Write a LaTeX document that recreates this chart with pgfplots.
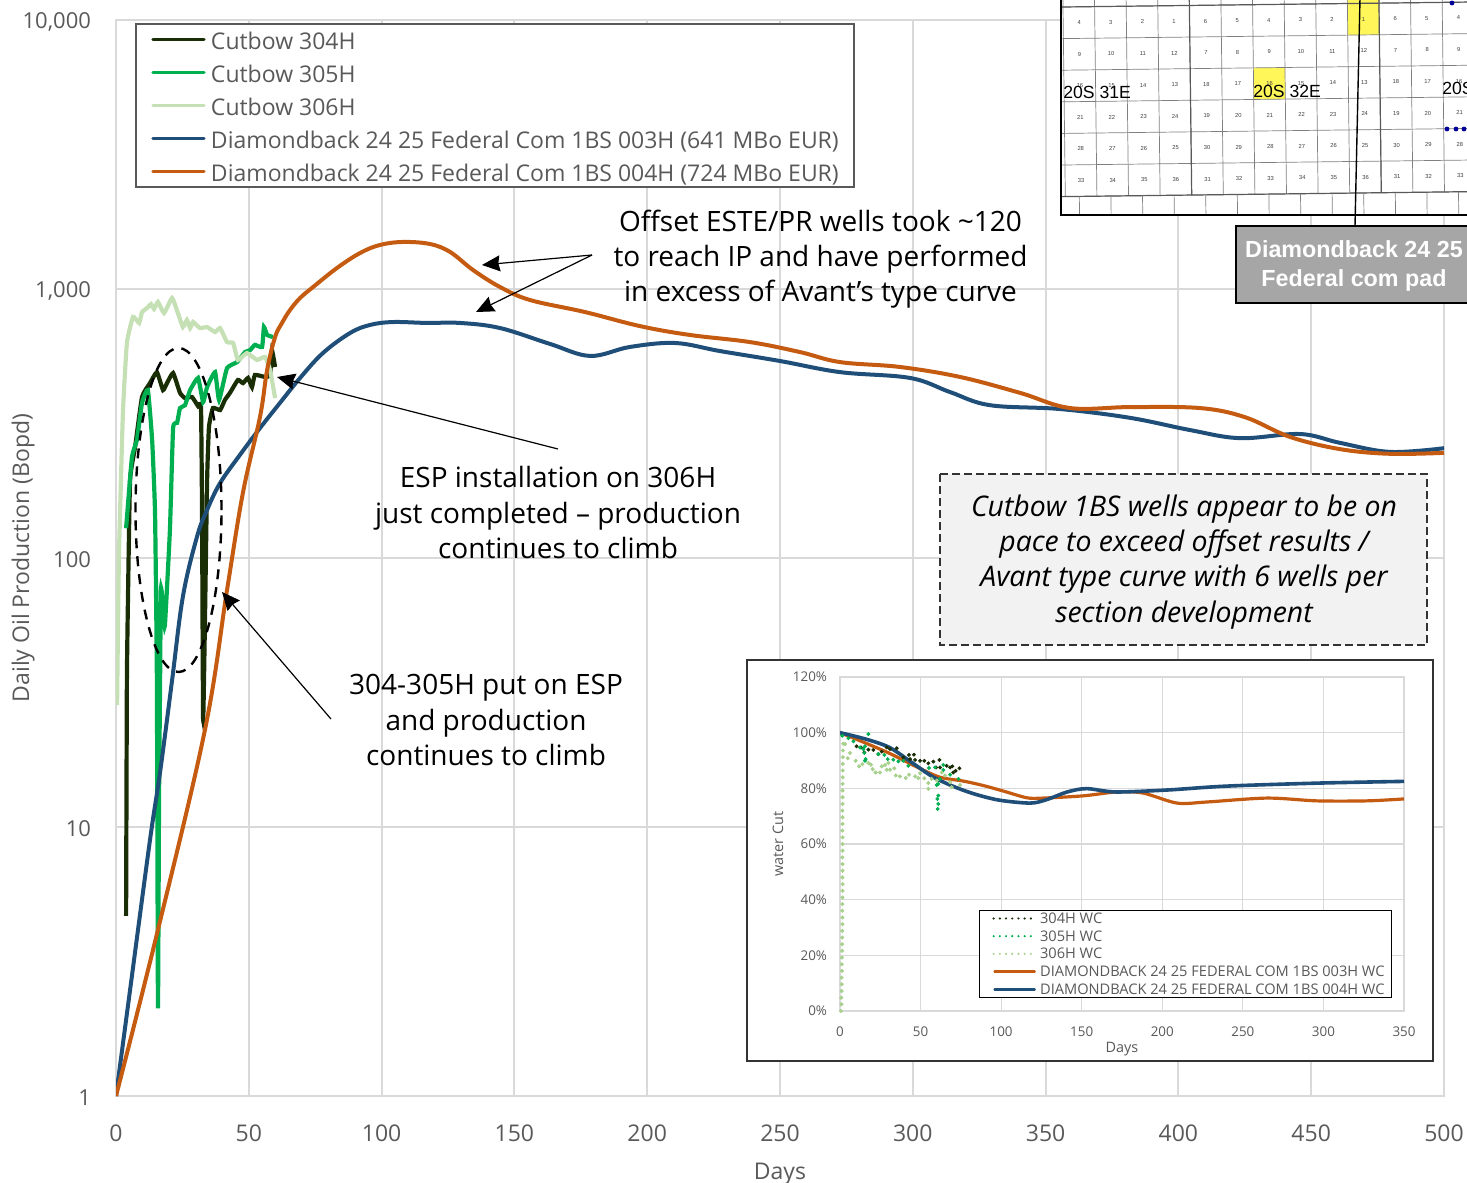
\documentclass[border=0pt]{standalone}
\usepackage{pgfplots}
\pgfplotsset{compat=1.18}
\usepackage{fontspec}
\setmainfont{Open Sans}
\newfontfamily\arialf{Liberation Sans}
\usetikzlibrary{arrows.meta}
\definecolor{cDark}{HTML}{1A2E05}
\definecolor{cGreen}{HTML}{00B050}
\definecolor{cLight}{HTML}{C5E0B4}
\definecolor{cLightDot}{HTML}{A9D18E}
\definecolor{cBlue}{HTML}{1F4E79}
\definecolor{cOrange}{HTML}{C55A11}
\definecolor{cGrid}{HTML}{D9D9D9}
\definecolor{cText}{HTML}{595959}
\newcommand\fs[2]{\fontsize{#1}{#2}\selectfont}
\tikzset{px/.style={x=0.5pt,y=-0.5pt},
  arr/.style={black,line width=0.6pt,-{Stealth[length=9pt,width=8pt,inset=0.8pt]}}}
\pgfplotsset{dotimg/.style={legend image code/.code={\path[draw=none](0pt,0pt)--(26.75pt,0pt);\draw[##1,line cap=round,line width=1.2pt,dash pattern=on 0pt off 3.1pt](3.5pt,0pt)--(24.5pt,0pt);}}}
\begin{document}
\begin{tikzpicture}
\useasboundingbox (0pt,0pt) rectangle (733.5pt,-591.5pt);
\clip (0pt,0pt) rectangle (733.5pt,-591.5pt);
\begin{axis}[
  at={(58pt,-548pt)},anchor=south west,scale only axis,width=664pt,height=538pt,
  ymode=log,xmin=0,xmax=500,ymin=1,ymax=10000,
  xtick={0,50,...,500},ytick={1,10,100,1000,10000},
  yticklabels={1,10,100,{1,000},{10,000}},
  log basis y=10,minor ytick={},
  major tick length=0pt,grid=major,
  grid style={cGrid,line width=1pt},
  axis line style={cGrid,line width=1pt},
  /pgf/number format/assume math mode=true,
  tick label style={font=\fs{11.5}{14},text=cText},
  xticklabel style={yshift=-11pt},
  yticklabel style={xshift=-9pt,yshift=-1pt,font=\fs{11}{14}},
  xlabel={Days},ylabel={Daily Oil Production (Bopd)},
  label style={font=\fs{11.5}{14},text=cText},
  xlabel style={at={(axis description cs:0.5,-0.0725)},anchor=center},
  ylabel style={at={(axis description cs:-0.07,0.5)},anchor=center},
  legend cell align=left,
  legend style={at={(rel axis cs:0.0143,0.9972)},anchor=north west,
    draw=cText,line width=1pt,fill=white,inner xsep=7.5pt,inner ysep=1pt,
    font=\fs{11.5}{14},text=cText,row sep=3pt,
    nodes={inner sep=0pt,text height=11.5pt,text depth=2pt}},
  legend image code/.code={\path[draw=none](0pt,0pt)--(30pt,0pt);\draw[#1,line cap=round,line width=1.6pt](1pt,0pt)--(26.5pt,0pt);},
]
\addplot[cDark,line width=2.1pt,smooth,tension=0.25] coordinates {(3.8,4.67)(4.1,35)(4.5,70)(5.3,195)(7.2,259)(9.8,397)(12.8,447)(15.4,491)(17.7,421)(19.2,447)(21.5,487)(24.1,411)(26,393)(28.6,397)(30.9,367)(32,364)(32.4,147)(32.8,25)(33.5,59)(34.3,195)(35,307)(36.5,361)(39.2,355)(41,387)(42.9,411)(45.9,459)(47.8,447)(49.7,467)(51.2,432)(52.3,479)(56.1,471)(58,479)(58.7,593)(59.9,513)};
\addlegendentry{Cutbow 304H}
\addplot[cGreen,line width=2.1pt,smooth,tension=0.25] coordinates {(3.8,129)(6,237)(7.9,275)(9.8,377)(12,421)(13.6,275)(14.7,147)(15.4,35)(15.8,2.12)(16.2,12.6)(16.6,35)(16.9,77)(17.7,67)(18.4,56)(20.3,127)(21.5,304)(23,318)(24.1,361)(26,370)(27.9,421)(30.9,467)(32.8,380)(34.3,432)(37.3,491)(38.8,387)(41.8,508)(45.6,535)(48.6,583)(50.5,593)(52.3,620)(55,609)(55.7,722)(56.9,675)(59.1,663)};
\addlegendentry{Cutbow 305H}
\addplot[cLight,line width=2.1pt,smooth,tension=0.25] coordinates {(0.4,28.4)(1.1,101)(2.6,346)(4.1,630)(6.4,787)(8.7,748)(9.8,821)(11.7,850)(13.2,879)(14.3,843)(15.8,895)(18.1,814)(21.1,926)(23.3,814)(25.2,722)(26.7,767)(27.9,716)(29,754)(31.6,716)(34.3,722)(37.3,692)(39.2,716)(41.8,635)(44.1,630)(45.9,545)(49.3,578)(53.1,545)(56.1,559)(58,500)(59.9,393)};
\addlegendentry{Cutbow 306H}
\addplot[cBlue,line width=2pt,smooth,tension=0.6] coordinates {(0,1)(5.3,2.48)(12.8,8.95)(16.6,16)(21.1,35)(25.2,72)(30.5,120)(34.3,151)(39.2,190)(46.7,242)(54.2,304)(61.7,377)(69.3,467)(77.9,578)(88.1,686)(95.6,735)(104.3,754)(117.1,748)(129.5,748)(144.6,716)(163.4,625)(178.5,564)(193.5,609)(210.5,630)(227.4,588)(250,540)(272.6,491)(299,467)(314,414)(329,370)(355.4,358)(381.8,332)(404.4,299)(423.2,279)(445.8,289)(460.8,268)(479.7,248)(500,256)};
\addlegendentry{Diamondback 24 25 Federal Com 1BS 003H (641 MBo EUR)}
\addplot[cOrange,line width=2pt,smooth,tension=0.6] coordinates {(0,1)(15.4,4)(33.5,23)(41.8,76)(47.8,175)(54.2,334)(56.9,500)(59.9,663)(62.5,748)(65.5,835)(69.3,926)(74.2,1017)(83.2,1197)(91.9,1361)(99.4,1458)(108.1,1496)(118.2,1470)(125.8,1373)(134.4,1177)(144.6,1017)(155.9,910)(176.6,821)(197.3,728)(216,675)(238.7,635)(257.5,583)(272.6,535)(295.2,513)(317.8,471)(340.4,411)(359.2,361)(381.8,364)(408.1,361)(425,334)(442,282)(460.8,254)(479.7,244)(500,246)};
\addlegendentry{Diamondback 24 25 Federal Com 1BS 004H (724 MBo EUR)}
\end{axis}
\begin{scope}[px]
% dashed ellipse
\draw[black,line width=1.2pt,dash pattern=on 5pt off 4pt] (178.5,510) ellipse [x radius=21.5pt,y radius=81pt];
% map
\fill[white] (1061,-5) rectangle (1480,215);
\begin{scope}
\clip (1061,-5) rectangle (1480,215);
\begin{scope}[rotate around={0.7:(1063,7)}]
\fill[yellow!65] (1347.4,-20) rectangle (1379,38.6);
\fill[yellow!65] (1252.6,70.2) rectangle (1284.2,101.8);
\foreach \i in {0,...,13}{\draw[gray,line width=0.35pt] (1063+31.6*\i,-20) -- (1063+31.6*\i,196.6);}
\foreach \j in {0,...,6}{\draw[gray,line width=0.35pt] (1040,7+31.6*\j) -- (1500,7+31.6*\j);}
\foreach \i in {4,10}{\draw[black!65,line width=0.6pt] (1063+31.6*\i,-20) -- (1063+31.6*\i,196.6);}
\draw[black!65,line width=0.6pt] (1040,7) -- (1500,7);
\draw[black!65,line width=0.6pt] (1040,196.6) -- (1500,196.6);
\foreach \i in {0,...,12}{\draw[gray,line width=0.35pt] (1077+31.6*\i,196.6) -- (1077+31.6*\i,225);}
\foreach \r/\lst in {0/{4,3,2,1,6,5,4,3,2,1,6,5,4},1/{9,10,11,12,7,8,9,10,11,12,7,8,9},2/{16,15,14,13,18,17,16,15,14,13,18,17,16},3/{21,22,23,24,19,20,21,22,23,24,19,20,21},4/{28,27,26,25,30,29,28,27,26,25,30,29,28},5/{33,34,35,36,31,32,33,34,35,36,31,32,33}}{
  \foreach \n [count=\c from 0] in \lst {
    \node[inner sep=0pt,text=black!75,font=\arialf\fs{2.9}{3}] at (1079+31.6*\c,22.8+31.6*\r) {\n};
  }
}
\end{scope}
\foreach \px in {1447,1456,1464}{\fill[blue!60!black] (\px,129) circle (1.2pt);}
\fill[blue!60!black] (1452,3) circle (1.2pt);
\end{scope}
\draw[black,line width=1pt] (1061,-5) -- (1061,215) -- (1480,215);
\node[anchor=west,inner sep=0pt,font=\arialf\fs{8.8}{12}] at (1063,92.5) {20S 31E};
\node[anchor=west,inner sep=0pt,font=\arialf\fs{8.8}{12}] at (1253,91) {20S 32E};
\node[anchor=west,inner sep=0pt,font=\arialf\fs{8.8}{12}] at (1442,88) {20S};
\draw[black,line width=0.7pt] (1360,-2) -- (1355,226);
\draw[black,line width=1pt,fill=black!35] (1236,226) rectangle (1480,303);
\node[align=center,text=white,inner sep=0pt,font=\arialf\bfseries\fs{11.65}{14.5}] at (1354,266) {Diamondback 24 25\\Federal com pad};
% annotations
\node[align=center,inner sep=0pt,text=black,font=\fs{14}{17.6}] at (820.5,259) {Offset ESTE/PR wells took \textasciitilde120\\to reach IP and have performed\\in excess of Avant’s type curve};
\node[align=center,inner sep=0pt,text=black,font=\fs{14}{17.6}] at (558,512.5) {ESP installation on 306H\\just completed – production\\continues to climb};
\node[align=center,inner sep=0pt,text=black,font=\fs{14}{17.6}] at (486,720) {304-305H put on ESP\\and production\\continues to climb};
\draw[arr] (592,255) -- (482,265);
\draw[arr] (592,255) -- (476,312);
\draw[arr] (558,449) -- (277,377);
\draw[arr] (331,719) -- (222,592);
% callout
\draw[black!80,line width=1.2pt,dash pattern=on 4pt off 2pt,fill=black!5] (940,474) rectangle (1427,645);
\node[align=center,inner sep=0pt,text=black,font=\itshape\fs{14.2}{17.55}] at (1184,562) {Cutbow 1BS wells appear to be on\\pace to exceed offset results /\\Avant type curve with 6 wells per\\section development};
% inset
\draw[black!80,line width=0.8pt,fill=white] (747,660) rectangle (1433,1061);
\end{scope}
\begin{axis}[
  at={(420pt,-505.5pt)},anchor=south west,scale only axis,width=282pt,height=167pt,
  xmin=0,xmax=350,ymin=0,ymax=120,
  xtick={0,50,...,350},ytick={0,20,...,120},
  yticklabels={0\%,20\%,40\%,60\%,80\%,100\%,120\%},
  major tick length=0pt,grid=major,
  grid style={cGrid,line width=0.6pt},
  axis line style={cGrid,line width=0.7pt},
  /pgf/number format/assume math mode=true,
  tick label style={font=\fs{6.7}{8},text=cText},
  xticklabel style={yshift=-4.5pt},
  yticklabel style={xshift=-3pt},
  xlabel={Days},ylabel={water Cut},
  label style={font=\fs{7.2}{8},text=cText},
  xlabel style={at={(axis description cs:0.5,-0.114)},anchor=center},
  ylabel style={at={(axis description cs:-0.11,0.5)},anchor=center},
  legend cell align=left,
  legend style={at={(rel axis cs:0.2465,0.3024)},anchor=north west,
    draw=black,line width=0.6pt,fill=white,inner xsep=3.5pt,inner ysep=0.75pt,
    font=\fs{7.3}{8},text=cText,row sep=2.5pt,
    nodes={inner sep=0pt,text height=5.6pt,text depth=0.75pt}},
  legend image code/.code={\path[draw=none](0pt,0pt)--(26.75pt,0pt);\draw[#1,line cap=round,line width=1.3pt](4pt,0pt)--(24pt,0pt);},
]
\addplot[only marks,cDark,mark=*,mark size=0.75pt,mark options={draw=none,fill=cDark},dotimg] coordinates {(10.3,95.1)(13,94.7)(15.1,92.9)(17.6,93.9)(20.7,93.8)(23.8,92.3)(25.9,93.2)(29,94.7)(31,94.1)(35.2,94.4)(39.3,91.1)(42.8,92)(45.9,92.1)(43.5,90.5)(46.6,90.2)(49.7,89.9)(52.3,89.9)(54.8,89)(57.9,89.6)(61.7,90.2)(59.6,87.5)(62.1,87.5)(66.2,88.1)(68.3,87.5)(69.7,87.9)(74.1,87.2)(70.3,85.7)(71.8,86.3)};
\addlegendentry{304H WC}
\addplot[only marks,cLightDot,mark=*,mark size=0.8pt,mark options={draw=none,fill=cLightDot},forget plot] coordinates {
  (0.6,0)(0.9,2.4)(0.8,4.8)(1,7.2)(1.1,9.6)(1,12)(1.2,14.4)(1.1,16.8)(1.2,19.2)(1.3,21.6)(1.3,24)(1.4,26.4)(1.4,28.8)(1.5,31.2)(1.5,33.6)(1.4,36)(1.5,38.4)(1.5,40.8)(1.6,43.2)(1.6,45.6)(1.5,48)(1.6,50.4)(1.6,52.8)(1.5,55.2)(1.6,57.6)(1.6,60)(1.6,62.4)(1.5,64.8)(1.6,67.2)(1.6,69.6)(1.5,72)(1.6,74.4)(1.6,76.8)(1.6,79.2)(1.6,81.6)(1.7,84)(1.7,86.4)(1.7,88.8)(1.8,91.2)(1.9,93.6)(2,96)};
\addplot[only marks,cGreen,mark=*,mark size=0.75pt,mark options={draw=none,fill=cGreen},dotimg] coordinates {(1.4,98.9)(5.2,98)(8.3,96.9)(12.4,94.7)(14.5,94.1)(15.5,95.1)(17.6,99.5)(15.1,92.7)(15.9,90.5)(15.5,89.9)(23.8,92.3)(27.5,92)(29.6,90.5)(33.1,90.3)(36.2,89.7)(39.3,89.9)(42.4,88.1)(55.2,87.3)(59,87.5)(64.1,88.4)(64.1,86.6)(68.3,84.9)(73.5,83.4)(62,83.4)(61,81.6)(60,81.2)(61,77.4)(60.4,76.2)(61,74.4)(60.6,72.6)};
\addlegendentry{305H WC}
\addplot[only marks,cLightDot,mark=*,mark size=0.8pt,mark options={draw=none,fill=cLightDot},dotimg] coordinates {(3.1,95.9)(6.2,92.7)(4.8,90.8)(9.7,89.9)(11.8,87.9)(13.9,88.7)(17.6,89.1)(19.2,88.5)(20.3,86.9)(22.1,85.7)(24.8,85.7)(25.9,87.9)(27.9,88.4)(30,89.1)(29,86.7)(31,86.7)(33.7,87.2)(34.6,84.6)(37.2,84.3)(40.8,83.7)(42.8,84.9)(46.6,84.3)(48.6,83.7)(49.7,85.4)(52.3,83.6)(54.8,81.9)(54.8,79.8)(56.9,83.4)(60,82.8)(63.1,85.7)(65.2,84.6)(68.3,82.2)(69.3,80.4)(74.5,81.2)};
\addlegendentry{306H WC}
\addplot[cOrange,line width=1.6pt,smooth,tension=0.5] coordinates {(0,100)(14.5,96.6)(31,92.5)(47.6,87.7)(62,84)(76.6,82.6)(89,81)(101.5,79)(116,76.6)(126,76.5)(150.8,77.3)(171.9,78.7)(188.1,78.3)(209.2,74.7)(227.8,75.1)(265,76.5)(296,75.5)(327,75.5)(350,76.2)};
\addlegendentry{DIAMONDBACK 24 25 FEDERAL COM 1BS 003H WC}
\addplot[cBlue,line width=1.8pt,smooth,tension=0.5] coordinates {(0,100)(16.6,97.6)(31,94.6)(45.5,88.9)(58,84)(72.5,80.2)(85,77.7)(99.4,75.7)(118,74.7)(128,75.9)(141,78.7)(153,79.9)(171,78.7)(203,79.4)(240,80.8)(298,81.9)(350,82.5)};
\addlegendentry{DIAMONDBACK 24 25 FEDERAL COM 1BS 004H WC}
\end{axis}
\end{tikzpicture}
\end{document}
